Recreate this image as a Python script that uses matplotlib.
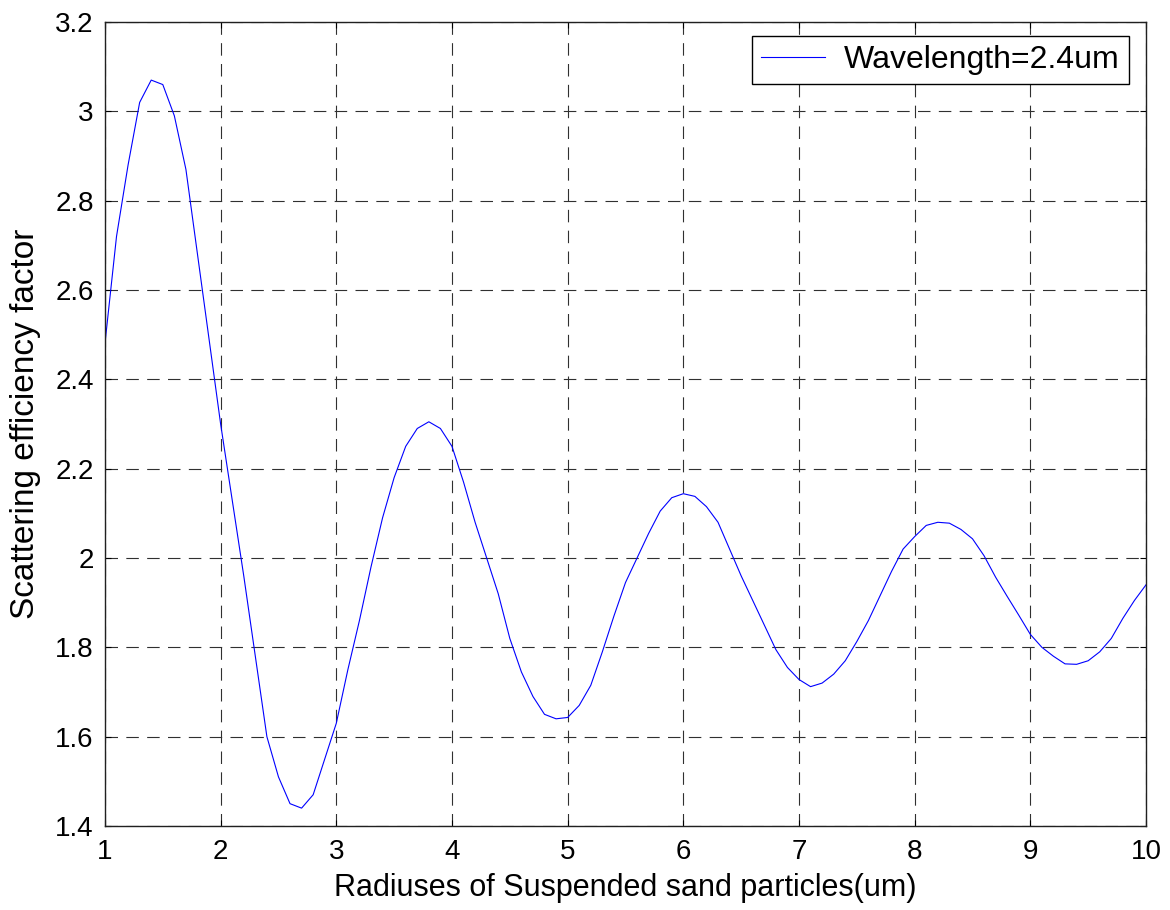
import numpy as np
import matplotlib
matplotlib.use('Agg')
import matplotlib.pyplot as plt

plt.rcParams['font.family'] = ['Liberation Sans', 'DejaVu Sans']
plt.rcParams['lines.scale_dashes'] = False

# particle radius (um), sampled every 0.1
radius = np.round(np.arange(1.0, 10.01, 0.1), 1)

# scattering efficiency
efficiency = [
    2.48, 2.72, 2.88, 3.02, 3.07, 3.06, 2.99, 2.87, 2.68, 2.49,
    2.30, 2.13, 1.96, 1.78, 1.60, 1.51, 1.45, 1.44, 1.47, 1.55,
    1.63, 1.75, 1.86, 1.98, 2.09, 2.18, 2.25, 2.29, 2.305, 2.29,
    2.25, 2.17, 2.08, 2.00, 1.92, 1.82, 1.745, 1.69, 1.65, 1.64,
    1.643, 1.67, 1.715, 1.79, 1.87, 1.945, 2.00, 2.055, 2.105, 2.135,
    2.144, 2.138, 2.115, 2.08, 2.02, 1.96, 1.905, 1.85, 1.795, 1.755,
    1.728, 1.712, 1.72, 1.74, 1.77, 1.813, 1.86, 1.915, 1.97, 2.02,
    2.048, 2.073, 2.08, 2.078, 2.064, 2.043, 2.005, 1.957, 1.914, 1.872,
    1.829, 1.80, 1.78, 1.763, 1.762, 1.77, 1.79, 1.82, 1.865, 1.905,
    1.94,
]

xticks = np.arange(1, 11, 1)
yticks = np.round(np.arange(1.4, 3.21, 0.2), 1)
ytick_labels = ['1.4', '1.6', '1.8', '2', '2.2', '2.4', '2.6', '2.8', '3', '3.2']

fig = plt.figure(figsize=(11.7, 9.1), dpi=100)
ax = fig.add_axes([0.0897, 0.0923, 0.8898, 0.8835])

ax.plot(radius, efficiency, color='#0000ff', linewidth=0.8, label='Wavelength=2.4um')

ax.set_xlim(1, 10)
ax.set_ylim(1.4, 3.2)
ax.set_xticks(xticks)
ax.set_yticks(yticks)
ax.set_yticklabels(ytick_labels)
ax.tick_params(direction='in', length=4, width=0.8, labelsize=20, pad=8,
               top=True, right=True)
ax.tick_params(axis='x', pad=9)

ax.grid(True, color='#303030', linestyle=(0, (9, 6)), linewidth=0.8)
for s in ax.spines.values():
    s.set_linewidth(1.0)
    s.set_color('#202020')

ax.set_xlabel('Radiuses of Suspended sand particles(um)', fontsize=22, labelpad=6)
ax.set_ylabel('Scattering efficiency factor', fontsize=24, labelpad=10)

leg = ax.legend(loc='upper right', bbox_to_anchor=(0.9837, 0.9826), fontsize=23,
                fancybox=False, framealpha=1, edgecolor='black',
                handlelength=2.0, handletextpad=0.6, borderpad=0.28,
                borderaxespad=0.0)
leg.get_frame().set_linewidth(1.0)

fig.savefig('out.png', dpi=100)
